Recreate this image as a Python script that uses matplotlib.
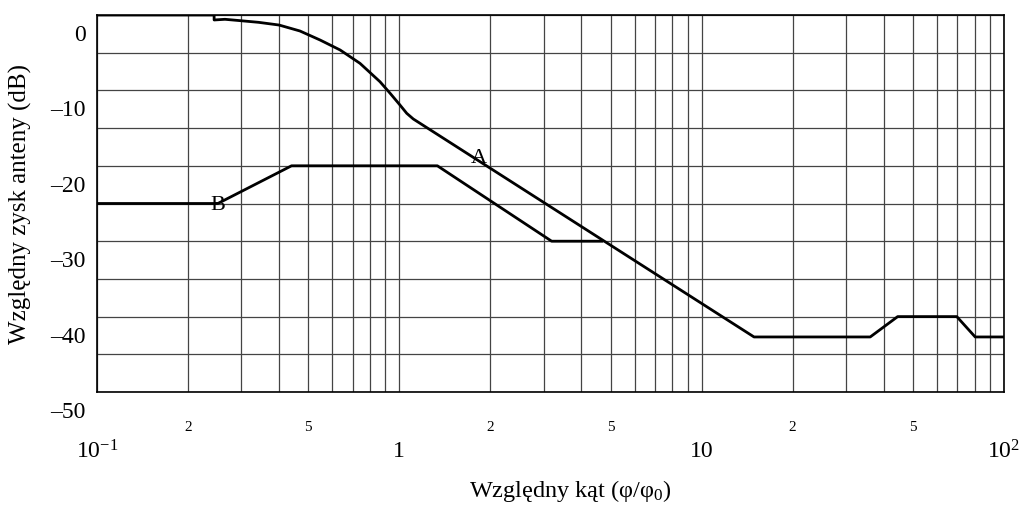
"""Relative antenna gain vs relative angle, co-polar (A) and cross-polar (B)."""

import matplotlib
matplotlib.use("Agg")
import matplotlib.pyplot as plt
import matplotlib.transforms as mtransforms
from matplotlib.ticker import FixedLocator, FixedFormatter, NullFormatter

plt.rcParams['font.family'] = ['Liberation Serif', 'DejaVu Serif']
plt.rcParams['mathtext.fontset'] = 'custom'
plt.rcParams['mathtext.rm'] = 'Liberation Serif'
plt.rcParams['mathtext.it'] = 'Liberation Serif:italic'

# curve A (phi/phi0, dB)
a_x = [0.1, 0.244, 0.244, 0.265, 0.2995, 0.342, 0.400, 0.469, 0.547,
       0.637, 0.741, 0.863, 0.932, 1.005, 1.058, 1.112, 14.9, 36.1, 44.5,
       69.8, 80.3, 100]
a_db = [0, 0, -0.66, -0.57, -0.76, -0.97, -1.33, -2.12, -3.32,
        -4.64, -6.41, -8.85, -10.38, -11.94, -13.04, -13.79, -42.7, -42.7, -40,
        -40, -42.7, -42.7]

# curve B, ends where it joins A
b_x = [0.1, 0.251, 0.44, 1.336, 3.19, 4.67]
b_db = [-25, -25, -20, -20, -30, -30]

x_major = [0.1, 1, 10, 100]
x_major_labels = ['10$^{-1}$', '1', '10', '10$^{2}$']
y_major = [0, -10, -20, -30, -40, -50]
y_major_labels = ['0', '–10', '–20', '–30', '–40', '–50']

fig = plt.figure(figsize=(10.24, 5.09), dpi=100)
ax = fig.add_axes([97 / 1024, 1 - 392 / 509, 907 / 1024, 377 / 509])

ax.plot(a_x, a_db, color='black', lw=2.0, zorder=3)
ax.plot(b_x, b_db, color='black', lw=2.0, zorder=3)

ax.set_xscale('log')
ax.set_xlim(0.1, 100)
ax.set_ylim(-50, 0)

# x ticks: decades big, 2 and 5 small, grid on every integer multiple
minor = []
minor_labels = []
for k in (-1, 0, 1):
    for m in range(2, 10):
        minor.append(m * 10.0 ** k)
        minor_labels.append(str(m) if m in (2, 5) else '')
ax.xaxis.set_major_locator(FixedLocator(x_major))
ax.xaxis.set_major_formatter(FixedFormatter(x_major_labels))
ax.xaxis.set_minor_locator(FixedLocator(minor))
ax.xaxis.set_minor_formatter(FixedFormatter(minor_labels))

ax.yaxis.set_major_locator(FixedLocator(y_major))
ax.yaxis.set_major_formatter(FixedFormatter(y_major_labels))
ax.yaxis.set_minor_locator(FixedLocator([-5, -15, -25, -35, -45]))
ax.yaxis.set_minor_formatter(NullFormatter())

ax.tick_params(axis='x', which='major', length=0, pad=35, labelsize=17)
ax.tick_params(axis='x', which='minor', length=0, pad=21, labelsize=11)
ax.tick_params(axis='y', which='both', length=0, pad=8, labelsize=17)

ax.grid(which='both', color='#444444', lw=0.9)
for s in ax.spines.values():
    s.set_linewidth(1.2)

# the scan has the dB labels sitting half a grid step low
shift = mtransforms.ScaledTranslation(0, -0.18, fig.dpi_scale_trans)
for lab in ax.get_yticklabels():
    lab.set_transform(lab.get_transform() + shift)

ax.text(1.835, -18.97, 'A', ha='center', va='center', fontsize=16, zorder=4)
ax.text(0.251, -25.3, 'B', ha='center', va='center', fontsize=16, zorder=4)

ax.set_ylabel('Względny zysk anteny (dB)', fontsize=18)
ax.yaxis.set_label_coords(-0.072, 0.5)
ax.set_xlabel('Względny kąt (φ/φ$_0$)', fontsize=17.5)
ax.xaxis.set_label_coords(0.522, -0.228)

fig.savefig('out.png', dpi=100)
